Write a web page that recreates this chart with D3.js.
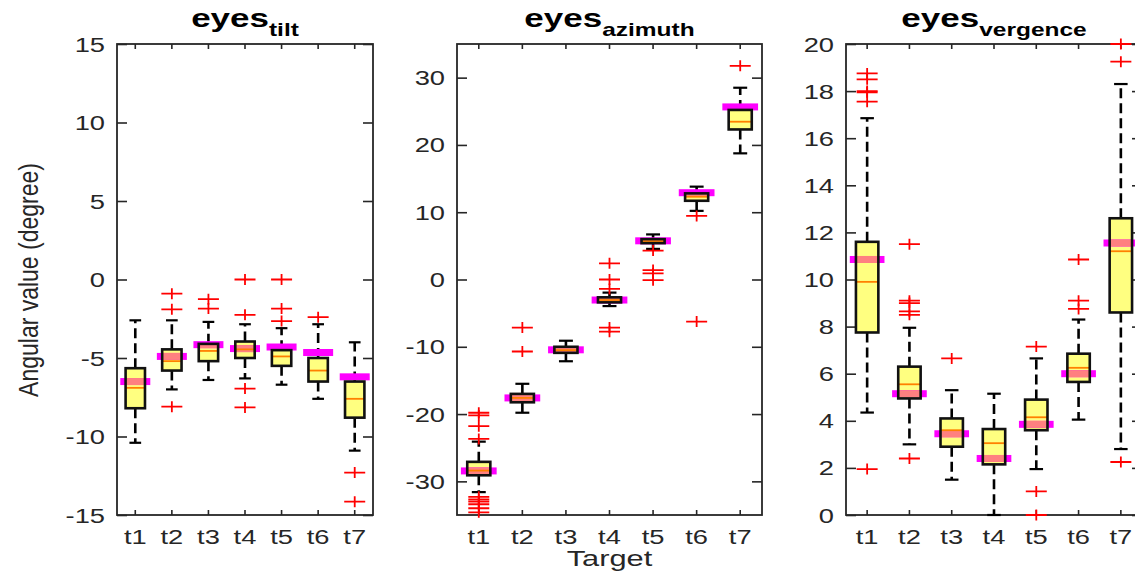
<!DOCTYPE html>
<html><head><meta charset="utf-8">
<script src="https://cdn.jsdelivr.net/npm/d3@7"></script>
<style>body{margin:0;background:#fff;overflow:hidden} svg{display:block} text{font-family:"Liberation Sans",Arial,sans-serif}</style>
</head><body><svg id="c" width="1135" height="573"></svg>
<script>
const targets = ["t1","t2","t3","t4","t5","t6","t7"];

// eyes tilt
const tiltTicks = [-15,-10,-5,0,5,10,15];
const tiltHigh = [-2.6,-2.6,-2.7,-2.85,-3.1,-2.85,-4.0];
const tiltQ3   = [-5.65,-4.45,-4.1,-3.95,-4.5,-5.0,-6.5];
const tiltMed  = [-6.9,-5.2,-4.55,-4.45,-4.9,-5.8,-7.6];
const tiltQ1   = [-8.2,-5.8,-5.2,-5.0,-5.5,-6.5,-8.8];
const tiltLow  = [-10.4,-7.0,-6.4,-6.3,-6.7,-7.6,-10.9];
const tiltOut  = [[],[-0.9,-1.9,-8.1],[-1.25,-1.85],[0,-2.25,-6.95,-8.15],[0,-1.85,-2.65],[-2.4],[-12.3,-14.15]];
const tiltTarget = [-6.5,-4.9,-4.15,-4.4,-4.3,-4.65,-6.2];

// eyes azimuth
const azTicks = [-30,-20,-10,0,10,20,30];
const azHigh = [-24.1,-15.5,-9.1,-1.95,6.7,13.8,28.5];
const azQ3   = [-27.1,-17.0,-10.0,-2.65,6.0,12.8,25.2];
const azMed  = [-28.4,-17.6,-10.5,-3.05,5.7,12.3,23.45];
const azQ1   = [-29.1,-18.25,-10.9,-3.4,5.4,11.7,22.3];
const azLow  = [-31.6,-19.8,-12.15,-3.95,4.55,10.2,18.75];
const azOut  = [[-19.8,-20.2,-21.8,-23.7,-32.3,-32.7,-33.0,-33.4,-34.0,-34.6],[-7.15,-10.7],[],[2.4,0.0,-1.4,-7.15,-7.75],[4.3,1.4,0.9,-0.1],[9.45,-6.25],[31.75]];
const azTarget = [-28.45,-17.6,-10.45,-3.05,5.75,12.9,25.65];

// eyes vergence
const vTicks = [0,2,4,6,8,10,12,14,16,18,20];
const vHigh = [16.85,7.95,5.3,5.15,6.65,8.3,18.3];
const vQ3   = [11.6,6.3,4.1,3.65,4.9,6.85,12.6];
const vMed  = [9.9,5.55,3.6,3.05,4.15,6.25,11.2];
const vQ1   = [7.75,4.95,2.9,2.15,3.6,5.65,8.6];
const vLow  = [4.35,3.0,1.5,0,1.95,4.05,2.8];
const vOut  = [[18.75,18.5,18.0,17.95,17.55,1.95],[11.5,9.1,9.0,8.65,8.5,2.4],[6.65],[],[7.15,1.0,0],[10.85,9.1,8.75],[20,19.25,2.25]];
const vTarget = [10.85,5.15,3.45,2.4,3.85,6.0,11.55];

const svg = d3.select("#c");
const TOP = 44, BOT = 515, SX = 1.4;

function panel(cfg){
  const x = d3.scaleBand().domain(targets).range([cfg.x0, cfg.x1]);
  const y = d3.scaleLinear().domain(cfg.domain).range([BOT, TOP]);
  const step = x.bandwidth();
  const g = svg.append("g");
  const axCol = "#262626";

  const left = g.append("g").attr("transform",`translate(${cfg.x0},0)`)
    .call(d3.axisLeft(y).tickValues(cfg.ticks).tickFormat(d=>String(d)).tickSizeInner(-10).tickSizeOuter(0).tickPadding(12));
  left.selectAll("text").attr("x",0).attr("dy","0.36em")
    .attr("transform",`translate(-12,0) scale(${SX},1)`).style("font-size","19.5px").attr("fill","#262626");
  const right = g.append("g").attr("transform",`translate(${cfg.x1},0)`)
    .call(d3.axisRight(y).tickValues(cfg.ticks).tickSizeInner(-10).tickSizeOuter(0).tickFormat(""));
  const bottom = g.append("g").attr("transform",`translate(0,${BOT})`)
    .call(d3.axisBottom(x).tickSizeInner(-5).tickSizeOuter(0).tickPadding(15));
  bottom.selectAll("text").attr("transform",`scale(${SX},1)`).style("font-size","19.5px").attr("fill","#262626");
  const top = g.append("g").attr("transform",`translate(0,${TOP})`)
    .call(d3.axisTop(x).tickSizeInner(-5).tickSizeOuter(0).tickFormat(""));
  [left,right,bottom,top].forEach(a=>{
    a.select(".domain").remove();
    a.selectAll("line").attr("stroke",axCol).attr("stroke-width",1.6);
  });
  g.append("rect").attr("x",cfg.x0).attr("y",TOP).attr("width",cfg.x1-cfg.x0).attr("height",BOT-TOP)
    .attr("fill","none").attr("stroke",axCol).attr("stroke-width",1.8);

  // title
  const t = g.append("g").attr("transform",`translate(${(cfg.x0+cfg.x1)/2},27) scale(${SX},1)`)
    .append("text").attr("text-anchor","middle").style("font-weight","bold");
  t.append("tspan").style("font-size","25px").text("eyes");
  t.append("tspan").attr("dy",9).style("font-size","17.5px").text(cfg.sub);

  const boxW = step*0.53, bandW = step*0.82, capW = step*0.32, bandH = 7;
  targets.forEach((k,i)=>{
    const cx = x(k)+step/2;
    const gg = g.append("g");
    gg.append("line").attr("x1",cx).attr("x2",cx).attr("y1",y(cfg.q3[i])).attr("y2",y(cfg.hi[i]))
      .attr("stroke","#000").attr("stroke-width",2.6).attr("stroke-dasharray","10,5");
    gg.append("line").attr("x1",cx).attr("x2",cx).attr("y1",y(cfg.q1[i])).attr("y2",y(cfg.lo[i]))
      .attr("stroke","#000").attr("stroke-width",2.6).attr("stroke-dasharray","10,5");
    [cfg.hi[i],cfg.lo[i]].forEach(v=>{
      gg.append("line").attr("x1",cx-capW/2).attr("x2",cx+capW/2).attr("y1",y(v)).attr("y2",y(v))
        .attr("stroke","#000").attr("stroke-width",2.2);
    });
    const by0 = y(cfg.q3[i]), by1 = y(cfg.q1[i]);
    gg.append("rect").attr("x",cx-boxW/2).attr("y",by0).attr("width",boxW).attr("height",by1-by0)
      .attr("fill","#ffff80");
    const ty = y(cfg.tgt[i]);
    gg.append("rect").attr("x",cx-bandW/2).attr("y",ty-bandH/2).attr("width",bandW).attr("height",bandH)
      .attr("fill","#ff00ff");
    const oy0 = Math.max(by0, ty-bandH/2), oy1 = Math.min(by1, ty+bandH/2);
    if (oy1>oy0) gg.append("rect").attr("x",cx-boxW/2).attr("y",oy0).attr("width",boxW).attr("height",oy1-oy0)
      .attr("fill","#ff8080");
    gg.append("line").attr("x1",cx-boxW/2).attr("x2",cx+boxW/2).attr("y1",y(cfg.med[i])).attr("y2",y(cfg.med[i]))
      .attr("stroke","#ff8000").attr("stroke-width",1.8);
    gg.append("rect").attr("x",cx-boxW/2).attr("y",by0).attr("width",boxW).attr("height",by1-by0)
      .attr("fill","none").attr("stroke","#111").attr("stroke-width",2.6);
    cfg.out[i].forEach(v=>{
      gg.append("path").attr("d",`M${cx-10.5},${y(v)}H${cx+10.5}M${cx},${y(v)-5.5}V${y(v)+5.5}`)
        .attr("stroke","#ff0000").attr("stroke-width",1.8).attr("fill","none");
    });
  });
}

panel({x0:117,x1:373,domain:[-15,15],ticks:tiltTicks,sub:"tilt",q1:tiltQ1,med:tiltMed,q3:tiltQ3,lo:tiltLow,hi:tiltHigh,out:tiltOut,tgt:tiltTarget});
panel({x0:457,x1:762,domain:[-35,35],ticks:azTicks,sub:"azimuth",q1:azQ1,med:azMed,q3:azQ3,lo:azLow,hi:azHigh,out:azOut,tgt:azTarget});
panel({x0:846,x1:1142,domain:[0,20],ticks:vTicks,sub:"vergence",q1:vQ1,med:vMed,q3:vQ3,lo:vLow,hi:vHigh,out:vOut,tgt:vTarget});

svg.append("g").attr("transform",`translate(38,280) scale(1.2,1) rotate(-90)`)
  .append("text").attr("text-anchor","middle").style("font-size","23px").attr("fill","#262626")
  .text("Angular value (degree)");
svg.append("g").attr("transform",`translate(609.5,566) scale(${SX},1)`)
  .append("text").attr("text-anchor","middle").style("font-size","22px").attr("fill","#262626")
  .text("Target");
</script></body></html>
